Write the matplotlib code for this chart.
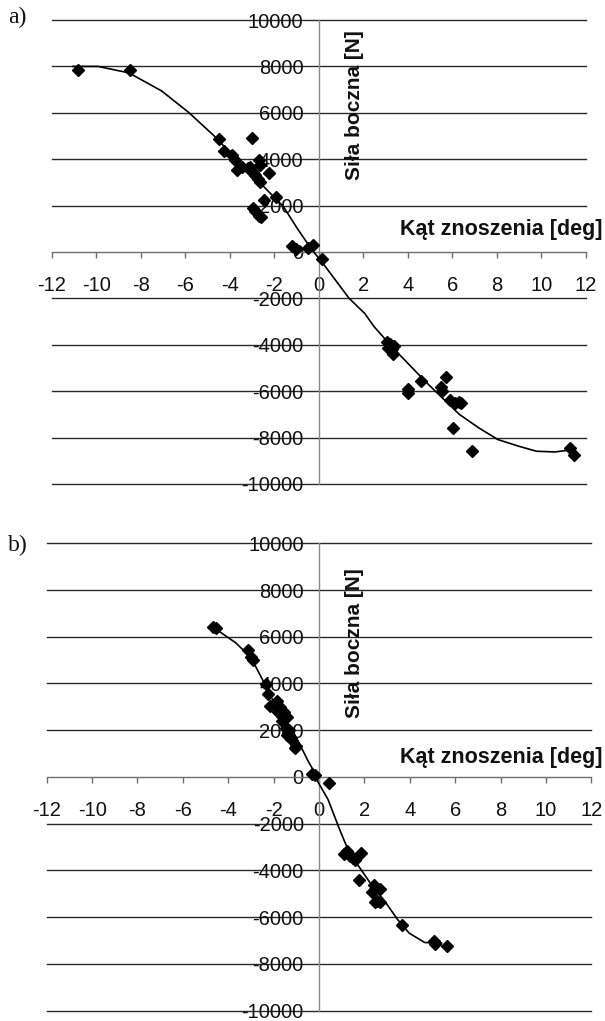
import matplotlib
matplotlib.use('Agg')
import matplotlib.pyplot as plt

# ---------------- data ----------------
# panel a) measured points
a_pts_x = [-10.8, -8.5, -4.5, -4.28, -3.9, -3.75, -3.68, -3.46, -3.0, -3.08, -3.2, -2.95,
           -2.85, -2.75, -2.65, -2.93, -2.71, -2.63, -2.23, -2.48, -1.91, -2.96, -2.85,
           -2.71, -2.6, -1.21, -1.03, -0.49, -0.26, 0.12, 3.04, 3.2, 3.39, 3.1, 3.3, 3.35,
           3.99, 3.99, 4.6, 5.47, 5.55, 5.69, 5.87, 6.1, 6.4, 6.3, 6.02, 6.89, 11.28, 11.46]
a_pts_y = [7850, 7850, 4850, 4350, 4200, 3970, 3530, 3680, 4920, 3680, 3600, 3450,
           3300, 3150, 3000, 3350, 3970, 3750, 3390, 2220, 2380, 1900, 1750,
           1560, 1500, 240, 120, 170, 290, -290, -3900, -3950, -4050, -4150, -4200, -4400,
           -5900, -6080, -5550, -5800, -6000, -5400, -6400, -6500, -6500, -6450, -7600, -8600,
           -8450, -8770]
# panel a) trend line
a_fit_x = [-11.05, -9.92, -8.53, -7.06, -5.84, -4.71, -3.58, -2.54, -1.59, -0.98, -0.37,
           0.23, 1.36, 2.06, 2.49, 3.36, 3.88, 4.75, 5.61, 6.31, 7.18, 8.05, 9.0, 9.78,
           10.6, 11.1]
a_fit_y = [8000, 8000, 7720, 6940, 6010, 5010, 3870, 2880, 1950, 1030, 170,
           -550, -2000, -2650, -3230, -4170, -4680, -5550, -6350, -7000, -7580, -8090,
           -8380, -8590, -8620, -8560]

# panel b) measured points
b_pts_x = [-4.68, -4.56, -3.13, -3.02, -2.9, -2.33, -2.23, -2.18, -1.85, -1.95, -1.7, -1.8,
           -1.55, -1.65, -1.4, -1.62, -1.47, -1.31, -1.4, -1.22, -1.0, -1.05, -0.29, -0.2,
           0.42, 1.12, 1.22, 1.37, 1.5, 1.59, 1.86, 1.77, 2.33, 2.4, 2.48, 2.7, 2.55, 2.45,
           2.7, 3.66, 5.07, 5.12, 5.62]
b_pts_y = [6430, 6360, 5420, 5140, 5000, 3990, 3550, 3050, 3270, 3000, 2980, 2800,
           2760, 2600, 2550, 2400, 2110, 1990, 1800, 1630, 1320, 1250, 140, 70,
           -240, -3300, -3160, -3380, -3450, -3550, -3250, -4400, -4930, -4630, -4780,
           -4780, -5290, -5350, -5340, -6320, -7030, -7130, -7220]
# panel b) trend line
b_fit_x = [-4.52, -3.67, -3.0, -2.5, -1.99, -1.48, -0.97, -0.46, -0.12, -0.04, 0.39, 0.9,
           1.33, 1.84, 2.35, 2.95, 3.46, 3.97, 4.65, 5.16, 5.4]
b_fit_y = [6310, 5740, 5110, 4180, 3190, 2480, 1630, 640, 70, -230, -950, -2230,
           -3240, -3950, -4670, -5390, -6100, -6680, -7080, -7110, -7100]

x_ticks = [-12, -10, -8, -6, -4, -2, 0, 2, 4, 6, 8, 10, 12]
x_tick_labels = ['-12', '-10', '-8', '-6', '-4', '-2', '0', '2', '4', '6', '8', '10', '12']
y_ticks = [-10000, -8000, -6000, -4000, -2000, 0, 2000, 4000, 6000, 8000, 10000]
y_tick_labels = ['-10000', '-8000', '-6000', '-4000', '-2000', '0',
                 '2000', '4000', '6000', '8000', '10000']

x_title = 'Kąt znoszenia [deg]'
y_title = 'Siła boczna [N]'
panel_labels = ['a)', 'b)']

# ---------------- figure ----------------
SANS = ['Liberation Sans', 'DejaVu Sans']
SERIF = ['Liberation Serif', 'DejaVu Serif']
plt.rcParams['font.family'] = SANS
plt.rcParams['xtick.labelsize'] = 14.5
plt.rcParams['ytick.labelsize'] = 14.5

W, H = 605, 1021
fig = plt.figure(figsize=(W / 100, H / 100), dpi=100)
fig.patch.set_facecolor('white')


def px(x, y):
    return x / W, 1 - y / H


def style(ax):
    ax.set_xlim(-12, 12)
    ax.set_ylim(-10000, 10000)
    ax.set_xticks(x_ticks, x_tick_labels)
    ax.set_yticks(y_ticks, y_tick_labels)
    for s in ['top', 'right']:
        ax.spines[s].set_visible(False)
    ax.spines['left'].set_position(('data', 0))
    ax.spines['bottom'].set_position(('data', 0))
    ax.spines['left'].set_color('#8a8a8a')
    ax.spines['bottom'].set_color('#707070')
    ax.spines['left'].set_linewidth(1.0)
    ax.spines['bottom'].set_linewidth(1.0)
    ax.spines['left'].set_zorder(2.5)
    ax.spines['bottom'].set_zorder(2.5)
    for v in y_ticks:
        if v != 0:
            ax.axhline(v, color='#2a2a2a', lw=1.0, zorder=1, clip_on=False)
    ax.tick_params(axis='x', direction='out', length=4, width=1, color='#707070',
                   pad=13, labelcolor='#111111', labelsize=14.5)
    ax.tick_params(axis='y', length=0, pad=11, labelcolor='#111111', labelsize=14.5)
    ax.patch.set_visible(False)


axes_rects = [[0.0855, 0.5260, 0.8831, 0.4544],
              [0.0772, 0.0101, 0.9003, 0.4578]]
pts = [(a_pts_x, a_pts_y), (b_pts_x, b_pts_y)]
fits = [(a_fit_x, a_fit_y), (b_fit_x, b_fit_y)]
xtitle_y = [230, 757]
ytitle_y = [105, 643]
plabel_y = [17, 545]

for i in range(2):
    ax = fig.add_axes(axes_rects[i])
    style(ax)
    ax.plot(fits[i][0], fits[i][1], color='black', lw=1.2, zorder=3)
    ax.plot(pts[i][0], pts[i][1], linestyle='none', marker='D', markersize=6,
            color='black', zorder=4)
    fig.text(*px(603, xtitle_y[i]), x_title, ha='right', va='center',
             fontsize=15.5, fontweight='bold', color='#111111')
    fig.text(*px(355, ytitle_y[i]), y_title, ha='center', va='center', rotation=90,
             fontsize=15, fontweight='bold', color='#111111')
    fig.text(*px(8, plabel_y[i]), panel_labels[i], ha='left', va='center',
             fontfamily=SERIF, fontsize=17, color='#111111')

fig.savefig('out.png', dpi=100)
